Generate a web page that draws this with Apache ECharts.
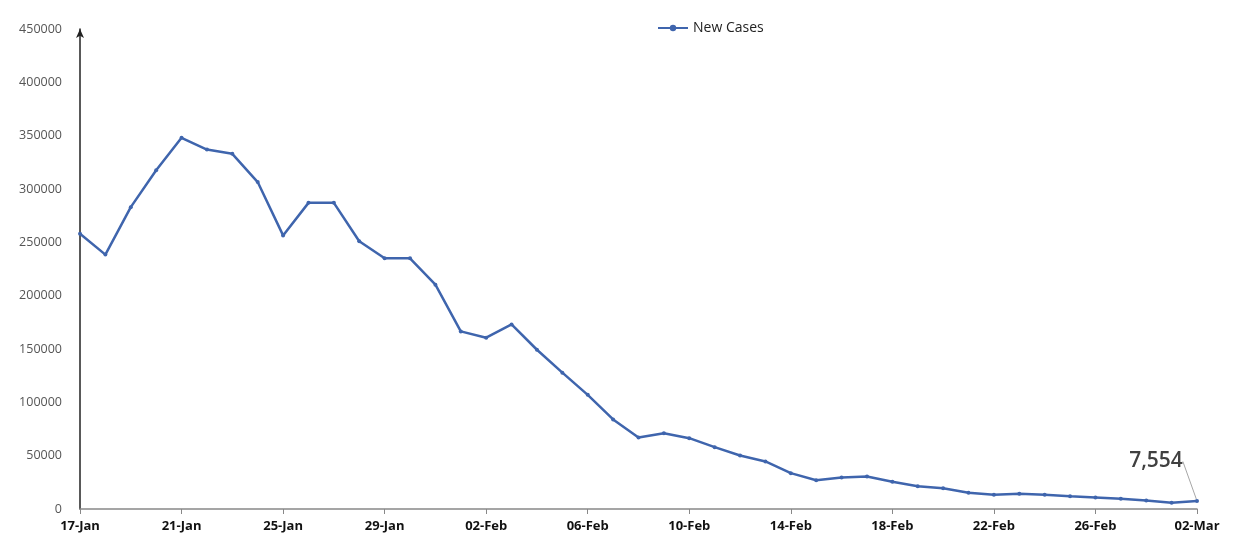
<!DOCTYPE html>
<html>
<head>
<meta charset="utf-8">
<script src="https://cdn.jsdelivr.net/npm/echarts@6/dist/echarts.min.js"></script>
<style>
  html, body { margin: 0; padding: 0; background: #fff; }
  #chart { width: 1236px; height: 544px; }
</style>
</head>
<body>
<div id="chart"></div>
<script>
// days from 17-Jan to 02-Mar
const dates = [
  '17-Jan','18-Jan','19-Jan','20-Jan','21-Jan','22-Jan','23-Jan','24-Jan','25-Jan','26-Jan',
  '27-Jan','28-Jan','29-Jan','30-Jan','31-Jan','01-Feb','02-Feb','03-Feb','04-Feb','05-Feb',
  '06-Feb','07-Feb','08-Feb','09-Feb','10-Feb','11-Feb','12-Feb','13-Feb','14-Feb','15-Feb',
  '16-Feb','17-Feb','18-Feb','19-Feb','20-Feb','21-Feb','22-Feb','23-Feb','24-Feb','25-Feb',
  '26-Feb','27-Feb','28-Feb','01-Mar','02-Mar'
];

const newCases = [
  258000, 238500, 283000, 317500, 348000, 337000, 333000, 306500, 256500, 287000,
  287000, 251000, 235000, 235000, 210300, 166500, 160600, 173000, 149300, 127800,
  107000, 84000, 67000, 71000, 66400, 58000, 50200, 44600, 33600, 27000,
  29500, 30500, 25500, 21400, 19500, 15200, 13300, 14200, 13300, 12000,
  10800, 9600, 8000, 5800, 7554
];

const yTicks = [0, 50000, 100000, 150000, 200000, 250000, 300000, 350000, 400000, 450000];

const lineColor = '#3F65AD';
const lastIdx = newCases.length - 1;

let chart = echarts.init(document.getElementById('chart'));

let seriesData = newCases.map((v, i) => {
  if (i === lastIdx) {
    return {
      value: v,
      label: {
        show: true,
        position: 'top',
        formatter: (p) => p.value.toLocaleString('en-US'),
        fontSize: 21,
        fontWeight: 600,
        fontFamily: 'Open Sans',
        color: '#404040'
      },
      labelLine: {
        show: true,
        lineStyle: { color: '#A6A6A6', width: 1 }
      }
    };
  }
  return v;
});

var option = {
  animation: false,
  grid: {
    left: 80,
    right: 39,
    top: 29,
    bottom: 35
  },
  legend: {
    top: 16,
    left: 652,
    itemWidth: 30,
    itemHeight: 8,
    itemGap: 4,
    textStyle: {
      fontSize: 14,
      fontFamily: 'Open Sans',
      color: '#222'
    },
    data: ['New Cases']
  },
  xAxis: {
    type: 'category',
    data: dates,
    boundaryGap: false,
    axisLine: { lineStyle: { color: '#888', width: 1.5 } },
    axisTick: {
      show: true,
      interval: 3,
      length: 5,
      lineStyle: { color: '#888' }
    },
    axisLabel: {
      interval: 3,
      margin: 11,
      fontSize: 13,
      fontWeight: 'bold',
      fontFamily: 'Open Sans',
      color: '#111'
    },
    splitLine: { show: false }
  },
  yAxis: {
    type: 'value',
    min: yTicks[0],
    max: yTicks[yTicks.length - 1],
    interval: yTicks[1] - yTicks[0],
    axisLine: {
      show: true,
      symbol: ['none', 'arrow'],
      symbolSize: [6, 9],
      lineStyle: { color: '#222', width: 1.5 }
    },
    axisTick: { show: false },
    axisLabel: {
      margin: 18,
      fontSize: 12.5,
      fontFamily: 'Open Sans',
      color: '#555',
      formatter: (v) => String(v)
    },
    splitLine: { show: false }
  },
  series: [
    {
      name: 'New Cases',
      type: 'line',
      data: seriesData,
      symbol: 'circle',
      symbolSize: 4,
      itemStyle: { color: lineColor },
      lineStyle: { color: lineColor, width: 2.5 },
      labelLayout: (p) => p.dataIndex === lastIdx ? { dx: -41, dy: -22 } : {}
    }
  ]
};
chart.setOption(option);
</script>
</body>
</html>
